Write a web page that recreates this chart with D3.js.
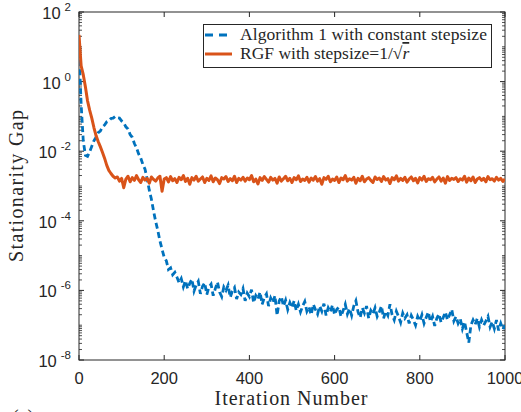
<!DOCTYPE html>
<html>
<head>
<meta charset="utf-8">
<script src="https://cdn.jsdelivr.net/npm/d3@7"></script>
<style>
  body { margin: 0; background: #fff; }
  text { fill: #262626; }
</style>
</head>
<body>
<script>
// iteration numbers (every 5th iteration)
var iters = d3.range(0, 1001, 5);

// log10 of the stationarity gap
var algLog = [
  0.9, -0.65, -1.7, -2.12, -2.15, -2.02, -1.86, -1.7, -1.6, -1.47,
  -1.42, -1.3, -1.25, -1.16, -1.13, -1.06, -1.05, -1.0, -1.04, -1.05,
  -1.13, -1.18, -1.3, -1.36, -1.52, -1.6, -1.78, -1.9, -2.08, -2.2,
  -2.38, -2.52, -2.8, -3.12, -3.38, -3.72, -4.02, -4.28, -4.58, -4.82,
  -5.05, -5.15, -5.4, -5.35, -5.55, -5.48,
  -5.62, -5.78, -5.66, -5.9, -5.72, -5.95, -5.8, -5.68, -6.02, -5.85,
  -5.74, -6.1, -5.88, -5.78, -6.12, -5.9, -5.82, -6.15, -5.95, -5.76,
  -6.05, -6.18, -5.9, -6.0, -5.85, -6.2, -6.02, -5.92, -6.25, -6.05,
  -6.12, -5.95, -6.3, -6.08, -6.18, -5.98, -6.35, -6.15, -6.25, -6.05,
  -6.4, -6.2, -6.1, -6.45, -6.22, -6.35, -6.15, -6.72, -6.3, -6.18,
  -6.45, -6.28, -6.55, -6.35, -6.5, -6.3, -6.58, -6.4, -6.62, -6.45,
  -6.32, -6.6, -6.48, -6.7, -6.4, -6.55, -6.68, -6.45, -6.6, -6.38,
  -6.72, -6.5, -6.62, -6.42, -6.7, -6.55, -6.48, -6.75, -6.58, -6.4,
  -6.68, -6.52, -6.72, -6.45, -6.3, -6.62, -6.78, -6.5, -6.65, -6.45,
  -6.8, -6.58, -6.68, -6.5, -6.75, -6.62, -6.45, -6.8, -6.6, -6.72,
  -6.4, -6.7, -6.85, -6.6, -6.75, -6.92, -6.65, -6.8, -6.7, -6.95,
  -6.72, -6.85, -7.0, -6.75, -6.88, -6.7, -6.95, -6.78, -6.62, -6.9,
  -6.75, -7.02, -6.8, -6.68, -6.92, -6.78, -6.62, -6.85, -6.7, -6.55,
  -6.88, -6.75, -6.95, -6.82, -7.1, -6.9, -7.2, -7.5, -7.0, -6.85,
  -6.98, -6.8, -7.05, -6.85, -7.0, -6.88, -6.75, -7.05, -6.9, -7.1,
  -6.85, -7.15, -6.95, -7.12, -7.0
];
var rgfLog = [
  1.34, 0.45, 0.2, -0.15, -0.55, -0.82, -1.05, -1.32, -1.55, -1.72,
  -1.87, -2.03, -2.2, -2.4, -2.55, -2.64, -2.72, -2.77,
  -2.74, -2.86, -2.78, -3.05, -2.8, -2.72, -2.88, -2.76, -2.84, -2.7,
  -2.82, -2.9, -2.75, -2.83, -2.78, -2.92, -2.74, -2.81, -2.86, -2.77,
  -2.72, -3.15, -2.8, -2.76, -2.88, -2.73, -2.85, -2.79, -2.9, -2.75,
  -2.82, -2.7, -2.87, -2.78, -2.95, -2.76, -2.83, -2.72, -2.86, -2.8,
  -2.74, -2.9, -2.78, -2.84, -2.71, -2.88, -2.77, -2.82, -2.93, -2.76,
  -2.8, -2.73, -2.87, -2.79, -2.85, -2.72, -2.9, -2.78, -2.83, -2.75,
  -2.86, -2.77, -2.82, -2.7, -2.88, -2.8, -2.94, -2.76, -2.84, -2.73,
  -2.81, -2.89, -2.75, -2.83, -2.78, -2.92, -2.74, -2.86, -2.79, -2.72,
  -2.85, -2.78, -2.9, -2.76, -2.82, -2.71, -2.87, -2.8, -2.84, -2.75,
  -2.89, -2.77, -2.83, -2.73, -2.86, -2.79, -2.95, -2.76, -2.81, -2.72,
  -2.88, -2.8, -2.84, -2.74, -2.9, -2.77, -2.82, -2.7, -2.86, -2.79,
  -2.83, -2.75, -2.92, -2.78, -2.85, -2.72, -2.88, -2.8, -2.76, -2.84,
  -2.9, -2.74, -2.81, -2.77, -2.87, -2.73, -2.83, -2.79, -2.93, -2.76,
  -2.82, -2.71, -2.86, -2.78, -2.84, -2.75, -2.89, -2.8, -2.74, -2.85,
  -2.78, -2.91, -2.76, -2.83, -2.72, -2.87, -2.79, -2.82, -2.75, -2.88,
  -2.8, -2.74, -2.86, -2.77, -2.92, -2.73, -2.84, -2.78, -2.81, -2.76,
  -2.87, -2.79, -2.83, -2.72, -2.89, -2.77, -2.85, -2.74, -2.9, -2.8,
  -2.76, -2.84, -2.78, -2.88, -2.73, -2.82, -2.79, -2.86, -2.75, -2.83,
  -2.78, -2.87, -2.8
];

var xTicks = [0, 200, 400, 600, 800, 1000];
var yExps = [-8, -6, -4, -2, 0, 2];
var seriesNames = ["Algorithm 1 with constant stepsize", "RGF with stepsize=1/"];

window.onload = function(){

  var w = 521, h = 412;
  var left = 79, right = 505, top = 12, bottom = 360;
  var axisCol = "#262626";
  var serif = "Liberation Serif, serif";

  var svg = d3.select("body").append("svg")
    .attr("width", w)
    .attr("height", h);

  var x = d3.scaleLinear().domain([0, 1000]).range([left, right]);
  var y = d3.scaleLog().domain([1e-8, 1e2]).range([bottom, top]);

  // minor ticks 2..9 in every decade, plus the odd decades
  var minor = [];
  for (var e = -8; e < 2; e++) {
    for (var m = 2; m <= 9; m++) minor.push(m * Math.pow(10, e));
    if (e % 2 !== 0) minor.push(Math.pow(10, e));
  }

  var ax = svg.append("g").attr("class", "axes");
  // box
  ax.append("rect")
    .attr("x", left).attr("y", top)
    .attr("width", right - left).attr("height", bottom - top)
    .attr("fill", "none").attr("stroke", axisCol).attr("stroke-width", 1);

  // x ticks (inside, bottom and top)
  xTicks.forEach(function(t){
    ax.append("line").attr("x1", x(t)).attr("x2", x(t))
      .attr("y1", bottom).attr("y2", bottom - 5).attr("stroke", axisCol);
    ax.append("line").attr("x1", x(t)).attr("x2", x(t))
      .attr("y1", top).attr("y2", top + 5).attr("stroke", axisCol);
    ax.append("text").attr("x", x(t)).attr("y", bottom + 24)
      .attr("text-anchor", "middle")
      .style("font-family", "Liberation Sans, Arial, sans-serif")
      .style("font-size", "16.5px")
      .text(t);
  });

  // y ticks (inside, left and right)
  minor.forEach(function(v){
    var len = 3;
    ax.append("line").attr("x1", left).attr("x2", left + len)
      .attr("y1", y(v)).attr("y2", y(v)).attr("stroke", axisCol).attr("stroke-width", 0.8);
    ax.append("line").attr("x1", right).attr("x2", right - len)
      .attr("y1", y(v)).attr("y2", y(v)).attr("stroke", axisCol).attr("stroke-width", 0.8);
  });
  yExps.forEach(function(e){
    var v = Math.pow(10, e);
    ax.append("line").attr("x1", left).attr("x2", left + 5)
      .attr("y1", y(v)).attr("y2", y(v)).attr("stroke", axisCol);
    ax.append("line").attr("x1", right).attr("x2", right - 5)
      .attr("y1", y(v)).attr("y2", y(v)).attr("stroke", axisCol);
    var lab = ax.append("text")
      .attr("x", 71).attr("y", y(v) + 7)
      .attr("text-anchor", "end")
      .style("font-family", "Liberation Sans, Arial, sans-serif")
      .style("font-size", "16.5px");
    lab.append("tspan").text("10");
    lab.append("tspan").attr("dx", 4).attr("dy", -8)
      .style("font-size", "11.5px").text(e);
  });

  // lines
  svg.append("clipPath").attr("id", "clip")
    .append("rect").attr("x", left).attr("y", top)
    .attr("width", right - left).attr("height", bottom - top);

  var line = d3.line()
    .x(function(d){ return x(d[0]); })
    .y(function(d){ return y(Math.pow(10, d[1])); });

  var algPts = iters.map(function(t, i){ return [t, algLog[i]]; });
  var rgfPts = iters.map(function(t, i){ return [t, rgfLog[i]]; });

  var g = svg.append("g").attr("clip-path", "url(#clip)");
  g.append("path").datum(algPts)
    .attr("d", line)
    .attr("fill", "none")
    .attr("stroke", "#0072BD")
    .attr("stroke-width", 2.8)
    .attr("stroke-dasharray", "6,3.5");
  g.append("path").datum(rgfPts)
    .attr("d", line)
    .attr("fill", "none")
    .attr("stroke", "#D95319")
    .attr("stroke-width", 3)
    .attr("stroke-linejoin", "round");

  // legend
  var lg = svg.append("g").attr("class", "legend");
  lg.append("rect").attr("x", 203.5).attr("y", 24.5)
    .attr("width", 288).attr("height", 43)
    .attr("fill", "#fff").attr("stroke", axisCol).attr("stroke-width", 1);
  lg.append("line").attr("x1", 205).attr("x2", 232).attr("y1", 35).attr("y2", 35)
    .attr("stroke", "#0072BD").attr("stroke-width", 2.8).attr("stroke-dasharray", "8,6");
  lg.append("line").attr("x1", 205).attr("x2", 232).attr("y1", 54).attr("y2", 54)
    .attr("stroke", "#D95319").attr("stroke-width", 3);
  lg.append("text").attr("x", 240).attr("y", 40)
    .attr("textLength", 247).attr("lengthAdjust", "spacing")
    .style("font-family", serif).style("font-size", "17.5px")
    .text(seriesNames[0]);
  var t2 = lg.append("text").attr("x", 240).attr("y", 59)
    .style("font-family", serif).style("font-size", "17.5px");
  t2.append("tspan").text(seriesNames[1]);
  t2.append("tspan").text("\u221A");
  t2.append("tspan").style("font-style", "italic").style("text-decoration", "overline").text("r");

  // axis titles
  svg.append("text")
    .attr("x", 291).attr("y", 405)
    .attr("text-anchor", "middle")
    .attr("textLength", 153).attr("lengthAdjust", "spacing")
    .style("font-family", serif).style("font-size", "20px")
    .text("Iteration Number");
  svg.append("text")
    .attr("transform", "translate(23," + (top + bottom) / 2 + ") rotate(-90)")
    .attr("text-anchor", "middle")
    .attr("textLength", 152).attr("lengthAdjust", "spacing")
    .style("font-family", serif).style("font-size", "20px")
    .text("Stationarity Gap");
  svg.append("text")
    .attr("x", 12).attr("y", 424)
    .style("font-family", serif).style("font-size", "20px")
    .text("(a)");
};
</script>
</body>
</html>
